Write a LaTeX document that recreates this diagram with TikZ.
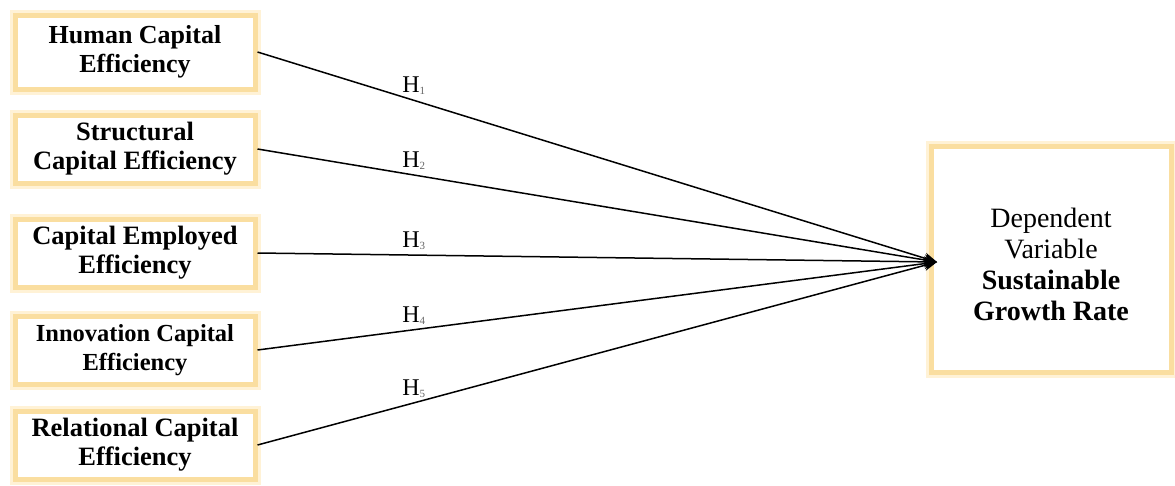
\documentclass[tikz,border=0pt]{standalone}
\usepackage{fontspec}
\setmainfont{Liberation Serif}
\usepackage{tikz}
\usepackage{xcolor}
\usetikzlibrary{arrows.meta}

\definecolor{glowedge}{RGB}{250,222,160}
\definecolor{glowhalo}{RGB}{255,242,214}
\newcommand{\hsub}[1]{H{\fontsize{11}{11}\selectfont\raisebox{-2pt}{\textcolor{black!60}{#1}}}}

\begin{document}
\begin{tikzpicture}[x=1pt, y=-1pt,
    box/.style={draw=glowedge, line width=5, fill=white,
        preaction={draw=glowhalo, line width=11},
        align=center, inner sep=0pt},
    indep/.style={box, minimum width=240, minimum height=68,
        font=\fontsize{26.5}{29}\selectfont\bfseries},
    link/.style={line width=1.5, -{Stealth[length=13, width=11]}},
    hyp/.style={font=\fontsize{24}{26}\selectfont, inner sep=5}]
    \useasboundingbox (0,0) rectangle (1175,485);

    % Independent variables
    \node[indep, minimum height=74, font=\fontsize{26}{29}\selectfont\bfseries] (hce) at (135,52) {Human Capital\\Efficiency};
    \node[indep] (sce) at (135,149) {Structural\\Capital Efficiency};
    \node[indep] (cee) at (135,253) {Capital Employed\\Efficiency};
    \node[indep, font=\fontsize{24.5}{29}\selectfont\bfseries] (ice) at (135,350) {Innovation Capital\\Efficiency};
    \node[indep] (rce) at (135,445) {Relational Capital\\Efficiency};

    % Dependent variable
    \node[box, minimum width=240, minimum height=226,
        font=\fontsize{28}{31}\selectfont] (sgr) at (1051,259)
        {\raisebox{-15pt}[0pt][0pt]{\begin{tabular}{@{}c@{}}Dependent\\Variable\\\textbf{Sustainable}\\\textbf{Growth Rate}\end{tabular}}};
    \coordinate (tip) at (937,262);

    % Hypotheses
    \draw[link] (hce.east) -- (tip) node[hyp, pos=0.23, above] {\hsub{1}};
    \draw[link] (sce.east) -- (tip) node[hyp, pos=0.23, above] {\hsub{2}};
    \draw[link] (cee.east) -- (tip) node[hyp, pos=0.23, above] {\hsub{3}};
    \draw[link] (ice.east) -- (tip) node[hyp, pos=0.23, above] {\hsub{4}};
    \draw[link] (rce.east) -- (tip) node[hyp, pos=0.23, above] {\hsub{5}};
\end{tikzpicture}
\end{document}
